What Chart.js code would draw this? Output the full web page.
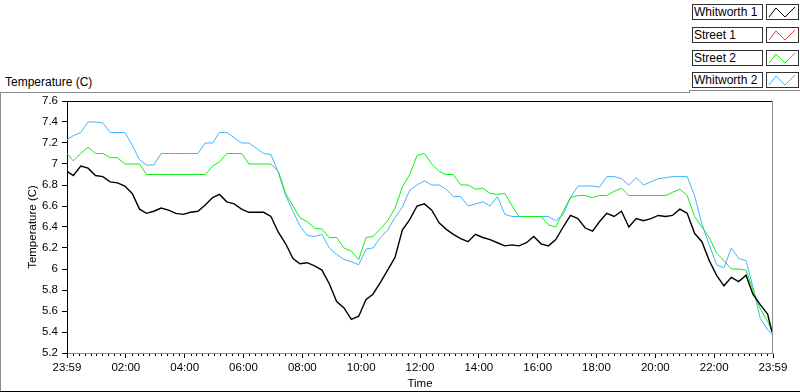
<!DOCTYPE html>
<html>
<head>
<meta charset="utf-8">
<script src="https://cdn.jsdelivr.net/npm/chart.js@4.4.1/dist/chart.umd.min.js"></script>
<style>
  body { margin: 0; background: #fff; font-family: "Liberation Sans", Arial, sans-serif; }
  #wrap { position: relative; width: 800px; height: 392px; overflow: hidden; background: #fff; }
  #chart { position: absolute; left: 0; top: 0; }
  .ln { position: absolute; background: #8c8c8c; }
  .graph-label { position: absolute; left: 5px; top: 74px; font-size: 12px; line-height: 16px; color: #000; }
  .lg-name { position: absolute; left: 692px; width: 71px; height: 16px; box-sizing: border-box;
             border: 1px solid #303030; font-size: 12px; line-height: 14px; padding-left: 1px; color: #000; background: #fff; }
  .lg-icon { position: absolute; left: 766px; width: 33px; height: 16px; box-sizing: border-box;
             border: 1px solid #303030; background: #fff; }
  .lg-icon svg { position: absolute; left: 0; top: 0; }
</style>
</head>
<body>
<div id="wrap">
  <div class="ln" style="left:0;top:92px;width:690px;height:1px"></div>
  <div class="ln" style="left:689px;top:90px;width:111px;height:1px"></div>
  <div class="ln" style="left:689px;top:90px;width:1px;height:3px"></div>
  <div class="ln" style="left:0;top:92px;width:1px;height:300px"></div>
  <div class="ln" style="left:0;top:391px;width:800px;height:1px;background:#000"></div>
  <div class="graph-label">Temperature (C)</div>
  <canvas id="chart" width="800" height="392"></canvas>
  <div id="legend"></div>
</div>
<script>
// time of each sample, minutes after 23:59
var minutes = [0, 13, 28, 43, 58, 73, 88, 103, 118, 133,
    148, 162, 177, 192, 207, 222, 237, 252, 267, 282,
    297, 311, 326, 341, 356, 371, 386, 401, 416, 431,
    446, 461, 475, 490, 505, 520, 535, 550, 565, 580,
    595, 610, 624, 639, 654, 669, 684, 699, 714, 729,
    744, 759, 773, 788, 803, 818, 833, 848, 863, 878,
    893, 908, 922, 937, 952, 967, 982, 997, 1012, 1027,
    1042, 1057, 1072, 1086, 1101, 1116, 1131, 1146, 1161, 1176,
    1191, 1206, 1221, 1235, 1250, 1265, 1280, 1295, 1310, 1325,
    1340, 1355, 1370, 1385, 1399, 1414, 1429, 1438];

var whitworth1 = [6.93, 6.89, 6.98, 6.96, 6.89, 6.88, 6.83, 6.82, 6.79, 6.72,
    6.57, 6.53, 6.55, 6.58, 6.56, 6.53, 6.52, 6.54, 6.55, 6.61,
    6.68, 6.71, 6.64, 6.62, 6.57, 6.54, 6.54, 6.54, 6.50, 6.35,
    6.24, 6.10, 6.05, 6.06, 6.03, 5.99, 5.86, 5.69, 5.63, 5.52,
    5.55, 5.71, 5.76, 5.87, 5.99, 6.11, 6.37, 6.47, 6.60, 6.62,
    6.56, 6.44, 6.38, 6.33, 6.29, 6.26, 6.33, 6.30, 6.28, 6.25,
    6.22, 6.23, 6.22, 6.25, 6.31, 6.24, 6.22, 6.28, 6.40, 6.51,
    6.48, 6.39, 6.36, 6.45, 6.53, 6.50, 6.55, 6.40, 6.48, 6.46,
    6.48, 6.51, 6.50, 6.51, 6.57, 6.53, 6.34, 6.26, 6.08, 5.94,
    5.84, 5.92, 5.88, 5.94, 5.76, 5.66, 5.57, 5.40];

var street1 = [];

var street2 = [7.10, 7.03, 7.10, 7.16, 7.10, 7.10, 7.06, 7.06, 7.00, 7.00,
    7.00, 6.90, 6.90, 6.90, 6.90, 6.90, 6.90, 6.90, 6.90, 6.90,
    6.98, 7.02, 7.10, 7.10, 7.10, 7.00, 7.00, 7.00, 7.00, 6.93,
    6.72, 6.60, 6.49, 6.45, 6.39, 6.38, 6.30, 6.30, 6.20, 6.17,
    6.09, 6.30, 6.31, 6.38, 6.46, 6.58, 6.78, 6.90, 7.08, 7.10,
    7.00, 6.93, 6.90, 6.90, 6.80, 6.80, 6.76, 6.77, 6.72, 6.71,
    6.72, 6.60, 6.50, 6.50, 6.50, 6.50, 6.42, 6.40, 6.55, 6.68,
    6.70, 6.70, 6.68, 6.70, 6.70, 6.74, 6.77, 6.70, 6.70, 6.70,
    6.70, 6.70, 6.70, 6.73, 6.76, 6.70, 6.50, 6.40, 6.30, 6.15,
    6.08, 6.00, 6.00, 5.99, 5.80, 5.62, 5.50, 5.41];

var whitworth2 = [7.23, 7.27, 7.30, 7.40, 7.40, 7.39, 7.30, 7.30, 7.30, 7.18,
    7.04, 6.99, 6.99, 7.10, 7.10, 7.10, 7.10, 7.10, 7.10, 7.20,
    7.20, 7.30, 7.30, 7.25, 7.20, 7.20, 7.15, 7.10, 7.09, 6.92,
    6.70, 6.55, 6.41, 6.32, 6.31, 6.33, 6.20, 6.14, 6.09, 6.07,
    6.04, 6.19, 6.20, 6.30, 6.37, 6.49, 6.59, 6.75, 6.80, 6.84,
    6.80, 6.80, 6.76, 6.69, 6.69, 6.60, 6.62, 6.64, 6.60, 6.69,
    6.52, 6.50, 6.50, 6.50, 6.50, 6.50, 6.50, 6.46, 6.52, 6.68,
    6.79, 6.79, 6.79, 6.78, 6.88, 6.88, 6.86, 6.80, 6.87, 6.80,
    6.83, 6.86, 6.87, 6.88, 6.88, 6.88, 6.70, 6.43, 6.23, 6.04,
    6.01, 6.20, 6.10, 6.08, 5.83, 5.53, 5.42, 5.38];

var seriesNames = ['Whitworth 1', 'Street 1', 'Street 2', 'Whitworth 2'];
var seriesColors = ['#000000', '#ff3535', '#11ee11', '#3fb5ff'];

var xTickValues = [0, 120, 240, 360, 480, 600, 720, 840, 960, 1080, 1200, 1320, 1440];
var xTickLabels = ['23:59', '02:00', '04:00', '06:00', '08:00', '10:00', '12:00',
    '14:00', '16:00', '18:00', '20:00', '22:00', '23:59'];
var yTickValues = [5.2, 5.4, 5.6, 5.8, 6, 6.2, 6.4, 6.6, 6.8, 7, 7.2, 7.4, 7.6];
var yTickLabels = ['5.2', '5.4', '5.6', '5.8', '6', '6.2', '6.4', '6.6', '6.8', '7', '7.2', '7.4', '7.6'];

// legend boxes
var legend = document.getElementById('legend');
var rowTops = [4, 27, 50, 72];
seriesNames.forEach(function (name, i) {
    var box = document.createElement('div');
    box.className = 'lg-name';
    box.style.top = rowTops[i] + 'px';
    box.textContent = name;
    legend.appendChild(box);

    var icon = document.createElement('div');
    icon.className = 'lg-icon';
    icon.style.top = rowTops[i] + 'px';
    icon.innerHTML = '<svg width="31" height="14"><polyline points="2,12 9,3 18,12 28,2" fill="none" stroke="' +
        seriesColors[i] + '" stroke-width="1"/></svg>';
    legend.appendChild(icon);
});

function toPoints(values) {
    return values.map(function (v, i) {
        return { x: minutes[i], y: v };
    });
}

var allSeries = [whitworth1, street1, street2, whitworth2];

var plotFrame = {
    id: 'plotFrame',
    afterDraw: function (chart) {
        var a = chart.chartArea;
        var ctx = chart.ctx;
        var xs = chart.scales.x;
        ctx.save();
        ctx.lineWidth = 1;
        ctx.strokeStyle = '#000';
        ctx.beginPath();
        ctx.moveTo(a.left, Math.round(a.top) + 0.5);
        ctx.lineTo(a.right, Math.round(a.top) + 0.5);
        ctx.stroke();
        ctx.strokeStyle = '#8c8c8c';
        ctx.beginPath();
        ctx.moveTo(Math.round(a.right) - 0.5, a.top);
        ctx.lineTo(Math.round(a.right) - 0.5, a.bottom);
        ctx.stroke();
        // minor ticks every 12 minutes
        ctx.strokeStyle = '#000';
        for (var m = 12; m < 1440; m += 12) {
            if (m % 120 === 0) continue;
            var px = Math.round(xs.getPixelForValue(m)) + 0.5;
            ctx.beginPath();
            ctx.moveTo(px, a.bottom + 1);
            ctx.lineTo(px, a.bottom + 3);
            ctx.stroke();
        }
        ctx.restore();
    }
};

Chart.defaults.font.family = '"Liberation Sans", Arial, sans-serif';
Chart.defaults.font.size = 11.5;
Chart.defaults.color = '#000';

var ctx = document.getElementById('chart').getContext('2d');
var myChart = new Chart(ctx, {
    type: 'line',
    data: {
        datasets: seriesNames.map(function (name, i) {
            return {
                label: name,
                data: toPoints(allSeries[i]),
                borderColor: seriesColors[i],
                borderWidth: i === 0 ? 1.4 : 1,
                pointRadius: 0,
                tension: 0,
                fill: false
            };
        })
    },
    options: {
        responsive: false,
        animation: false,
        events: [],
        layout: { padding: { top: 101, right: 27, left: 0, bottom: 0 } },
        plugins: { legend: { display: false }, tooltip: { enabled: false } },
        scales: {
            x: {
                type: 'linear',
                min: 0,
                max: 1440,
                afterFit: function (s) { s.height = 39; },
                afterBuildTicks: function (s) {
                    s.ticks = xTickValues.map(function (v) { return { value: v }; });
                },
                ticks: {
                    autoSkip: false,
                    maxRotation: 0,
                    padding: 3,
                    callback: function (v, i) { return xTickLabels[i]; }
                },
                grid: { drawOnChartArea: false, drawTicks: true, tickLength: 5, color: '#000' },
                border: { display: true, color: '#8c8c8c', width: 1 },
                title: { display: true, text: 'Time', font: { size: 11.5 }, padding: { top: 0, bottom: 1 } }
            },
            y: {
                type: 'linear',
                min: 5.2,
                max: 7.6,
                afterFit: function (s) { s.width = 67; },
                afterBuildTicks: function (s) {
                    s.ticks = yTickValues.map(function (v) { return { value: v }; });
                },
                ticks: {
                    autoSkip: false,
                    padding: 4,
                    callback: function (v, i) { return yTickLabels[i]; }
                },
                grid: { drawOnChartArea: false, drawTicks: true, tickLength: 5, color: '#000' },
                border: { display: true, color: '#000', width: 1 },
                title: { display: true, text: 'Temperature (C)', font: { size: 11.5 }, padding: { top: 26, bottom: 0 } }
            }
        }
    },
    plugins: [plotFrame]
});
</script>
</body>
</html>
